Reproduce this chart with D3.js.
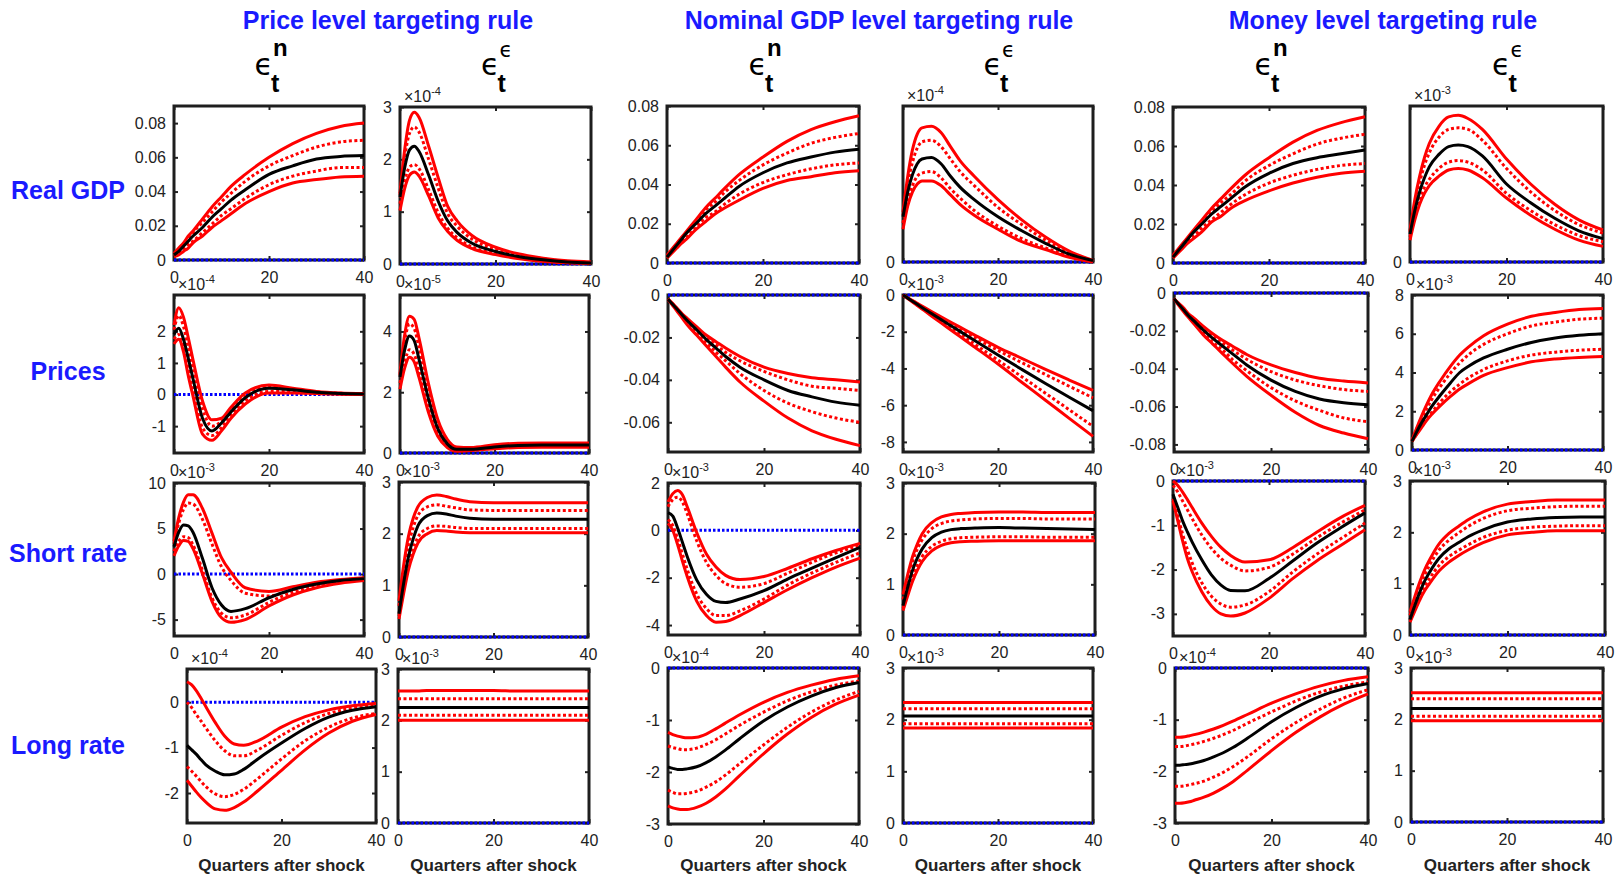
<!DOCTYPE html>
<html><head><meta charset="utf-8">
<script src="https://cdn.jsdelivr.net/npm/d3@7"></script>
<style>body{margin:0;background:#fff}</style>
</head><body>
<svg id="c" width="1617" height="877"></svg>
<script>
// ---------------- DATA ----------------
const quarters = [0,1,2,3,4,6,8,10,12,15,20,25,30,35,40];
const rules = ["Price level targeting rule", "Nominal GDP level targeting rule", "Money level targeting rule"];
const variables = ["Real GDP", "Prices", "Short rate", "Long rate"];
const shocks = ["n", "ϵ"];
const xTicks = [0, 20, 40];
const xLabel = "Quarters after shock";
// each panel: [outer upper, inner upper, median, inner lower, outer lower]
const pl_gdp_n = [
 [0.004,0.007,0.010,0.014,0.017,0.024,0.031,0.037,0.043,0.050,0.060,0.068,0.074,0.078,0.080],
 [0.0035,0.006,0.009,0.012,0.016,0.022,0.028,0.034,0.039,0.046,0.055,0.061,0.066,0.069,0.070],
 [0.003,0.005,0.008,0.011,0.014,0.019,0.025,0.030,0.035,0.041,0.050,0.055,0.059,0.0605,0.061],
 [0.0025,0.004,0.006,0.009,0.011,0.016,0.021,0.026,0.030,0.036,0.044,0.049,0.052,0.054,0.054],
 [0.002,0.003,0.005,0.007,0.010,0.014,0.019,0.023,0.027,0.033,0.040,0.045,0.047,0.0485,0.049]];
const pl_gdp_e = [
 [1.35,2.2,2.75,2.90,2.80,2.25,1.65,1.10,0.82,0.55,0.32,0.19,0.11,0.06,0.04],
 [1.32,2.05,2.5,2.62,2.52,2.0,1.45,0.96,0.72,0.48,0.28,0.17,0.10,0.05,0.03],
 [1.28,1.85,2.18,2.25,2.15,1.70,1.20,0.82,0.60,0.40,0.24,0.14,0.08,0.04,0.02],
 [1.15,1.6,1.85,1.9,1.82,1.42,0.98,0.68,0.50,0.33,0.20,0.12,0.06,0.03,0.015],
 [1.02,1.45,1.7,1.76,1.68,1.30,0.88,0.62,0.45,0.30,0.18,0.10,0.05,0.025,0.01]];
const ngdp_gdp_n = [
 [0.004,0.007,0.010,0.013,0.016,0.022,0.028,0.033,0.038,0.045,0.054,0.062,0.068,0.072,0.075],
 [0.0035,0.0065,0.0095,0.0125,0.0155,0.021,0.027,0.031,0.036,0.042,0.050,0.056,0.061,0.064,0.066],
 [0.003,0.006,0.009,0.012,0.015,0.020,0.025,0.029,0.033,0.039,0.046,0.051,0.054,0.0565,0.058],
 [0.003,0.0055,0.008,0.011,0.013,0.018,0.023,0.026,0.030,0.035,0.041,0.045,0.048,0.050,0.051],
 [0.0025,0.005,0.0075,0.010,0.012,0.017,0.021,0.025,0.028,0.032,0.038,0.042,0.044,0.046,0.047]];
const ngdp_gdp_e = [
 [0.32,0.55,0.72,0.82,0.86,0.87,0.83,0.74,0.65,0.55,0.40,0.27,0.16,0.07,0.01],
 [0.30,0.50,0.64,0.73,0.77,0.78,0.74,0.66,0.58,0.49,0.35,0.24,0.14,0.06,0.01],
 [0.29,0.45,0.56,0.63,0.66,0.67,0.63,0.55,0.48,0.40,0.29,0.20,0.12,0.05,0.01],
 [0.25,0.40,0.49,0.55,0.57,0.58,0.54,0.47,0.41,0.33,0.23,0.15,0.09,0.04,0.005],
 [0.21,0.36,0.45,0.50,0.52,0.52,0.49,0.43,0.37,0.30,0.21,0.13,0.08,0.03,0.0]];
const ml_gdp_n = [
 [0.004,0.007,0.010,0.013,0.016,0.022,0.028,0.033,0.038,0.045,0.054,0.062,0.068,0.072,0.075],
 [0.0035,0.0065,0.0095,0.0125,0.0155,0.021,0.026,0.031,0.035,0.042,0.050,0.056,0.061,0.064,0.066],
 [0.003,0.006,0.009,0.012,0.015,0.020,0.025,0.029,0.033,0.039,0.046,0.051,0.054,0.056,0.058],
 [0.003,0.0055,0.008,0.011,0.013,0.018,0.022,0.026,0.030,0.035,0.041,0.045,0.048,0.050,0.051],
 [0.0025,0.005,0.0075,0.010,0.012,0.016,0.021,0.024,0.028,0.032,0.037,0.041,0.044,0.046,0.047]];
const ml_gdp_e = [
 [0.20,0.40,0.55,0.67,0.76,0.87,0.93,0.94,0.92,0.85,0.66,0.50,0.37,0.27,0.205],
 [0.19,0.37,0.51,0.62,0.70,0.80,0.85,0.86,0.85,0.78,0.60,0.45,0.33,0.24,0.185],
 [0.18,0.33,0.45,0.54,0.61,0.69,0.74,0.75,0.74,0.68,0.50,0.38,0.28,0.20,0.15],
 [0.16,0.30,0.40,0.48,0.53,0.60,0.64,0.65,0.64,0.59,0.44,0.33,0.24,0.17,0.13],
 [0.14,0.27,0.37,0.44,0.49,0.55,0.59,0.60,0.59,0.54,0.41,0.30,0.21,0.14,0.10]];
const pl_p_n = [
 [2.2,2.75,2.45,1.8,1.1,-0.2,-0.8,-0.75,-0.4,0.05,0.3,0.2,0.1,0.05,0.03],
 [2.05,2.5,2.15,1.5,0.85,-0.45,-1.0,-0.85,-0.45,0.0,0.25,0.17,0.08,0.04,0.02],
 [1.9,2.1,1.75,1.15,0.5,-0.75,-1.15,-0.9,-0.55,-0.1,0.2,0.15,0.07,0.03,0.02],
 [1.75,1.9,1.5,0.8,0.15,-1.05,-1.3,-1.05,-0.65,-0.2,0.1,0.08,0.04,0.02,0.01],
 [1.6,1.75,1.35,0.6,-0.05,-1.25,-1.45,-1.15,-0.75,-0.3,0.05,0.05,0.03,0.01,0.0]];
const pl_p_e = [
 [2.6,3.9,4.5,4.4,3.8,2.3,1.1,0.45,0.2,0.18,0.27,0.32,0.33,0.33,0.33],
 [2.55,3.7,4.25,4.1,3.5,2.1,0.95,0.38,0.16,0.15,0.24,0.29,0.30,0.30,0.30],
 [2.5,3.4,3.85,3.7,3.1,1.8,0.8,0.3,0.12,0.12,0.2,0.25,0.26,0.26,0.26],
 [2.3,3.0,3.4,3.25,2.7,1.5,0.65,0.22,0.08,0.09,0.16,0.21,0.22,0.22,0.22],
 [2.1,2.8,3.15,3.0,2.5,1.35,0.55,0.18,0.06,0.08,0.14,0.18,0.19,0.19,0.19]];
const ngdp_p_n = [
 [-0.002,-0.004,-0.0065,-0.009,-0.011,-0.015,-0.019,-0.022,-0.025,-0.029,-0.034,-0.037,-0.039,-0.040,-0.041],
 [-0.002,-0.0043,-0.0068,-0.0092,-0.0115,-0.016,-0.020,-0.0235,-0.027,-0.031,-0.036,-0.040,-0.043,-0.044,-0.045],
 [-0.002,-0.0045,-0.007,-0.0095,-0.012,-0.0165,-0.021,-0.025,-0.029,-0.034,-0.040,-0.045,-0.048,-0.0505,-0.052],
 [-0.002,-0.0048,-0.0075,-0.010,-0.013,-0.018,-0.0225,-0.027,-0.031,-0.037,-0.045,-0.051,-0.055,-0.058,-0.060],
 [-0.002,-0.005,-0.008,-0.011,-0.014,-0.019,-0.024,-0.029,-0.034,-0.041,-0.050,-0.058,-0.064,-0.068,-0.071]];
const ngdp_p_e = [
 [0,-0.15,-0.30,-0.45,-0.60,-0.90,-1.19,-1.47,-1.75,-2.17,-2.85,-3.45,-4.05,-4.63,-5.2],
 [0,-0.16,-0.32,-0.48,-0.64,-0.96,-1.27,-1.57,-1.87,-2.30,-3.02,-3.68,-4.33,-4.97,-5.6],
 [0,-0.17,-0.34,-0.51,-0.68,-1.01,-1.34,-1.66,-1.98,-2.47,-3.27,-4.05,-4.82,-5.57,-6.3],
 [0,-0.18,-0.36,-0.54,-0.72,-1.08,-1.43,-1.78,-2.13,-2.66,-3.55,-4.45,-5.35,-6.25,-7.15],
 [0,-0.19,-0.38,-0.57,-0.76,-1.14,-1.52,-1.89,-2.26,-2.82,-3.76,-4.75,-5.73,-6.72,-7.7]];
const ml_p_n = [
 [-0.003,-0.0055,-0.008,-0.011,-0.013,-0.0175,-0.0215,-0.025,-0.028,-0.0325,-0.038,-0.042,-0.045,-0.0465,-0.0475],
 [-0.003,-0.0058,-0.0085,-0.0115,-0.014,-0.0185,-0.0228,-0.0265,-0.030,-0.035,-0.0415,-0.046,-0.049,-0.051,-0.052],
 [-0.003,-0.006,-0.009,-0.012,-0.0145,-0.0195,-0.024,-0.028,-0.032,-0.038,-0.046,-0.052,-0.056,-0.058,-0.059],
 [-0.003,-0.0063,-0.0095,-0.0125,-0.0155,-0.021,-0.026,-0.030,-0.035,-0.041,-0.050,-0.057,-0.062,-0.066,-0.068],
 [-0.003,-0.0066,-0.010,-0.013,-0.016,-0.022,-0.027,-0.032,-0.037,-0.044,-0.054,-0.063,-0.070,-0.074,-0.077]];
const ml_p_e = [
 [0.5,1.15,1.75,2.3,2.8,3.6,4.3,4.9,5.35,5.9,6.5,6.9,7.1,7.25,7.3],
 [0.5,1.1,1.6,2.1,2.55,3.3,3.95,4.5,4.95,5.45,6.0,6.4,6.6,6.75,6.8],
 [0.45,0.95,1.4,1.8,2.2,2.85,3.45,4.0,4.35,4.75,5.2,5.55,5.78,5.92,6.0],
 [0.45,0.85,1.25,1.6,1.9,2.5,3.0,3.4,3.75,4.15,4.6,4.9,5.05,5.15,5.2],
 [0.45,0.8,1.15,1.5,1.8,2.3,2.75,3.15,3.45,3.85,4.25,4.55,4.7,4.78,4.82]];
const pl_s_n = [
 [3.6,6.2,7.9,8.7,8.7,7.2,4.5,1.8,0.2,-1.5,-1.9,-1.4,-0.9,-0.6,-0.4],
 [3.3,5.6,7.1,7.8,7.7,6.0,3.3,0.8,-0.7,-2.1,-2.4,-1.7,-1.1,-0.7,-0.45],
 [3.0,4.6,5.4,5.3,4.6,1.7,-1.5,-3.4,-4.1,-3.8,-2.6,-1.7,-1.1,-0.7,-0.5],
 [2.5,3.6,4.1,4.0,3.2,0.4,-2.6,-4.3,-4.8,-4.5,-3.1,-2.0,-1.3,-0.85,-0.6],
 [2.0,3.1,3.7,3.6,2.8,0.0,-3.0,-4.8,-5.3,-5.0,-3.5,-2.3,-1.5,-1.0,-0.7]];
const pl_s_e = [
 [0.7,1.4,1.95,2.3,2.52,2.7,2.75,2.72,2.67,2.62,2.6,2.6,2.6,2.6,2.6],
 [0.6,1.25,1.78,2.12,2.35,2.52,2.56,2.53,2.5,2.46,2.45,2.45,2.45,2.45,2.45],
 [0.45,1.05,1.55,1.9,2.15,2.35,2.4,2.38,2.34,2.3,2.28,2.28,2.28,2.28,2.28],
 [0.4,0.95,1.4,1.72,1.93,2.1,2.15,2.14,2.12,2.1,2.1,2.1,2.1,2.1,2.1],
 [0.35,0.85,1.3,1.6,1.82,2.0,2.06,2.05,2.03,2.02,2.02,2.02,2.02,2.02,2.02]];
const ngdp_s_n = [
 [1.2,1.55,1.68,1.5,1.0,-0.1,-1.0,-1.55,-1.9,-2.08,-1.95,-1.6,-1.2,-0.85,-0.55],
 [1.0,1.3,1.4,1.2,0.7,-0.45,-1.35,-1.9,-2.25,-2.4,-2.25,-1.8,-1.35,-0.95,-0.65],
 [0.75,0.6,0.1,-0.5,-1.1,-2.1,-2.7,-3.0,-3.05,-2.9,-2.55,-2.05,-1.6,-1.15,-0.72],
 [0.45,0.2,-0.35,-1.0,-1.65,-2.7,-3.3,-3.6,-3.6,-3.4,-2.9,-2.3,-1.8,-1.35,-0.95],
 [0.3,0.0,-0.6,-1.3,-1.95,-3.0,-3.6,-3.88,-3.85,-3.6,-3.05,-2.5,-2.0,-1.55,-1.17]];
const ngdp_s_e = [
 [0.8,1.2,1.55,1.8,2.0,2.22,2.33,2.38,2.4,2.42,2.43,2.43,2.42,2.42,2.42],
 [0.7,1.1,1.45,1.7,1.88,2.1,2.2,2.25,2.27,2.29,2.3,2.3,2.29,2.29,2.29],
 [0.58,0.95,1.28,1.52,1.7,1.92,2.03,2.08,2.1,2.11,2.12,2.11,2.1,2.09,2.08],
 [0.52,0.85,1.15,1.38,1.55,1.75,1.85,1.9,1.92,1.93,1.94,1.94,1.93,1.93,1.93],
 [0.48,0.78,1.06,1.28,1.45,1.66,1.77,1.82,1.84,1.85,1.86,1.86,1.86,1.86,1.86]];
const ml_s_n = [
 [0.0,-0.1,-0.25,-0.42,-0.6,-0.95,-1.25,-1.5,-1.68,-1.83,-1.78,-1.5,-1.15,-0.82,-0.55],
 [-0.1,-0.25,-0.45,-0.65,-0.85,-1.22,-1.52,-1.75,-1.9,-2.03,-1.95,-1.65,-1.28,-0.95,-0.65],
 [-0.3,-0.6,-0.9,-1.15,-1.38,-1.78,-2.12,-2.35,-2.47,-2.48,-2.2,-1.8,-1.4,-1.05,-0.72],
 [-0.4,-0.8,-1.2,-1.55,-1.85,-2.3,-2.6,-2.78,-2.85,-2.8,-2.5,-2.05,-1.65,-1.3,-0.95],
 [-0.45,-0.9,-1.35,-1.75,-2.05,-2.5,-2.82,-3.0,-3.05,-2.98,-2.65,-2.2,-1.8,-1.45,-1.1]];
const ml_s_e = [
 [0.45,0.75,1.03,1.27,1.46,1.78,1.98,2.12,2.25,2.4,2.55,2.6,2.63,2.63,2.63],
 [0.38,0.68,0.95,1.17,1.36,1.66,1.85,1.99,2.12,2.27,2.42,2.47,2.5,2.51,2.51],
 [0.3,0.58,0.83,1.05,1.22,1.5,1.68,1.8,1.92,2.05,2.2,2.26,2.29,2.3,2.3],
 [0.28,0.52,0.75,0.95,1.1,1.36,1.53,1.65,1.76,1.9,2.04,2.1,2.12,2.13,2.13],
 [0.25,0.47,0.68,0.86,1.0,1.25,1.42,1.55,1.66,1.8,1.95,2.0,2.03,2.03,2.03]];
const pl_l_n = [
 [0.45,0.38,0.25,0.08,-0.1,-0.45,-0.75,-0.92,-0.95,-0.85,-0.55,-0.32,-0.17,-0.08,-0.03],
 [0.0,-0.12,-0.28,-0.42,-0.57,-0.85,-1.07,-1.18,-1.18,-1.05,-0.73,-0.45,-0.25,-0.13,-0.07],
 [-0.95,-1.05,-1.15,-1.27,-1.38,-1.52,-1.6,-1.58,-1.48,-1.25,-0.9,-0.58,-0.33,-0.18,-0.1],
 [-1.42,-1.52,-1.63,-1.75,-1.86,-2.02,-2.08,-2.03,-1.92,-1.68,-1.25,-0.85,-0.55,-0.35,-0.25],
 [-1.72,-1.85,-1.98,-2.1,-2.2,-2.35,-2.38,-2.32,-2.2,-1.95,-1.5,-1.05,-0.68,-0.42,-0.27]];
const pl_l_e = [
 [2.57,2.57,2.57,2.57,2.57,2.58,2.58,2.58,2.58,2.58,2.58,2.57,2.57,2.57,2.57],
 [2.42,2.42,2.42,2.42,2.42,2.42,2.42,2.42,2.42,2.42,2.42,2.42,2.42,2.42,2.42],
 [2.25,2.25,2.25,2.25,2.25,2.25,2.25,2.25,2.25,2.25,2.25,2.25,2.25,2.25,2.25],
 [2.1,2.1,2.1,2.1,2.1,2.1,2.1,2.1,2.1,2.1,2.1,2.1,2.1,2.1,2.1],
 [2.0,2.0,2.0,2.0,2.0,2.0,2.0,2.0,2.0,2.0,2.0,2.0,2.0,2.0,2.0]];
const ngdp_l_n = [
 [-1.24,-1.28,-1.31,-1.33,-1.34,-1.33,-1.27,-1.17,-1.06,-0.9,-0.66,-0.47,-0.33,-0.22,-0.15],
 [-1.5,-1.53,-1.55,-1.57,-1.57,-1.54,-1.47,-1.38,-1.27,-1.1,-0.85,-0.63,-0.46,-0.33,-0.25],
 [-1.9,-1.93,-1.95,-1.95,-1.94,-1.9,-1.82,-1.71,-1.58,-1.36,-1.02,-0.75,-0.54,-0.38,-0.28],
 [-2.35,-2.39,-2.42,-2.42,-2.41,-2.37,-2.29,-2.19,-2.06,-1.84,-1.48,-1.14,-0.85,-0.62,-0.45],
 [-2.65,-2.69,-2.71,-2.72,-2.72,-2.68,-2.6,-2.48,-2.33,-2.07,-1.65,-1.27,-0.95,-0.7,-0.52]];
const ngdp_l_e = [
 [2.33,2.33,2.33,2.33,2.33,2.33,2.33,2.33,2.33,2.33,2.33,2.33,2.33,2.33,2.33],
 [2.21,2.21,2.21,2.21,2.21,2.21,2.21,2.21,2.21,2.21,2.21,2.21,2.21,2.21,2.21],
 [2.07,2.07,2.07,2.07,2.07,2.07,2.07,2.07,2.07,2.07,2.07,2.07,2.07,2.07,2.07],
 [1.92,1.92,1.92,1.92,1.92,1.92,1.92,1.92,1.92,1.92,1.92,1.92,1.92,1.92,1.92],
 [1.84,1.84,1.84,1.84,1.84,1.84,1.84,1.84,1.84,1.84,1.84,1.84,1.84,1.84,1.84]];
const ml_l_n = [
 [-1.34,-1.34,-1.33,-1.31,-1.29,-1.24,-1.18,-1.11,-1.03,-0.9,-0.68,-0.5,-0.35,-0.24,-0.17],
 [-1.52,-1.52,-1.51,-1.49,-1.47,-1.42,-1.36,-1.29,-1.21,-1.07,-0.85,-0.64,-0.47,-0.35,-0.27],
 [-1.88,-1.88,-1.87,-1.86,-1.84,-1.79,-1.72,-1.64,-1.54,-1.36,-1.04,-0.77,-0.55,-0.4,-0.3],
 [-2.29,-2.29,-2.28,-2.26,-2.24,-2.19,-2.11,-2.02,-1.91,-1.72,-1.37,-1.06,-0.8,-0.58,-0.42],
 [-2.62,-2.62,-2.61,-2.59,-2.56,-2.5,-2.42,-2.32,-2.2,-1.98,-1.6,-1.25,-0.95,-0.7,-0.5]];
const ml_l_e = [
 [2.52,2.52,2.52,2.52,2.52,2.52,2.52,2.52,2.52,2.52,2.52,2.52,2.52,2.52,2.52],
 [2.4,2.4,2.4,2.4,2.4,2.4,2.4,2.4,2.4,2.4,2.4,2.4,2.4,2.4,2.4],
 [2.21,2.21,2.21,2.21,2.21,2.21,2.21,2.21,2.21,2.21,2.21,2.21,2.21,2.21,2.21],
 [2.06,2.06,2.06,2.06,2.06,2.06,2.06,2.06,2.06,2.06,2.06,2.06,2.06,2.06,2.06],
 [1.97,1.97,1.97,1.97,1.97,1.97,1.97,1.97,1.97,1.97,1.97,1.97,1.97,1.97,1.97]];

// y tick values (shown as labels) and axis ranges
const ticksGdp = [0, 0.02, 0.04, 0.06, 0.08];
const ticksZero = [0];
const panels = [
 {d: pl_gdp_n,  dom: [0, 0.09],      t: ticksGdp,               e: null},
 {d: pl_gdp_e,  dom: [0, 3],         t: [0,1,2,3],              e: "-4"},
 {d: ngdp_gdp_n,dom: [0, 0.08],      t: ticksGdp,               e: null},
 {d: ngdp_gdp_e,dom: [0, 1],         t: ticksZero,              e: "-4"},
 {d: ml_gdp_n,  dom: [0, 0.08],      t: ticksGdp,               e: null},
 {d: ml_gdp_e,  dom: [0, 1],         t: ticksZero,              e: "-3"},
 {d: pl_p_n,    dom: [-1.85, 3.15],  t: [-1,0,1,2],             e: "-4"},
 {d: pl_p_e,    dom: [0, 5.2],       t: [0,2,4],                e: "-5"},
 {d: ngdp_p_n,  dom: [-0.074, 0],    t: [-0.06,-0.04,-0.02,0],  e: null},
 {d: ngdp_p_e,  dom: [-8.55, 0],     t: [-8,-6,-4,-2,0],        e: "-3"},
 {d: ml_p_n,    dom: [-0.084, 0],    t: [-0.08,-0.06,-0.04,-0.02,0], e: null},
 {d: ml_p_e,    dom: [0, 8],         t: [0,2,4,6,8],            e: "-3"},
 {d: pl_s_n,    dom: [-6.8, 10],     t: [-5,0,5,10],            e: "-3"},
 {d: pl_s_e,    dom: [0, 3],         t: [0,1,2,3],              e: "-3"},
 {d: ngdp_s_n,  dom: [-4.42, 2],     t: [-4,-2,0,2],            e: "-3"},
 {d: ngdp_s_e,  dom: [0, 3],         t: [0,1,2,3],              e: "-3"},
 {d: ml_s_n,    dom: [-3.5, 0],      t: [-3,-2,-1,0],           e: "-3"},
 {d: ml_s_e,    dom: [0, 3],         t: [0,1,2,3],              e: "-3"},
 {d: pl_l_n,    dom: [-2.66, 0.73],  t: [-2,-1,0],              e: "-4"},
 {d: pl_l_e,    dom: [0, 3],         t: [0,1,2,3],              e: "-3"},
 {d: ngdp_l_n,  dom: [-3, 0],        t: [-3,-2,-1,0],           e: "-4"},
 {d: ngdp_l_e,  dom: [0, 3],         t: [0,1,2,3],              e: "-3"},
 {d: ml_l_n,    dom: [-3, 0],        t: [-3,-2,-1,0],           e: "-4"},
 {d: ml_l_e,    dom: [0, 3],         t: [0,1,2,3],              e: "-3"}
];

// ---------------- LAYOUT ----------------
const boxes = [
 [174,106,364,260],[400,107,591,264],[667,106,859,263],[903,106,1093,262],[1173,107,1365,263],[1410,106,1603,262],
 [174,295,364,453],[400,295,589,453],[668,295,860,452],[903,295,1093,452],[1174,293,1368,452],[1412,295,1603,450],
 [174,483,364,636],[399,482,588,637],[668,483,860,635],[903,483,1095,635],[1173,481,1365,636],[1410,481,1605,635],
 [187,669,376,823],[398,669,589,823],[668,668,859,824],[903,668,1093,823],[1175,668,1368,823],[1411,668,1603,822]
];
const titleX = [388, 879, 1383];
const rowLabelY = [190, 371, 553, 745];
const FONT = "'Liberation Sans', Arial, Helvetica, sans-serif";
const BLUE = "#1a1aff";

const svg = d3.select("#c");
svg.append("rect").attr("width",1617).attr("height",877).attr("fill","#fff");

// titles
rules.forEach((t,i)=>{
  svg.append("text").attr("x",titleX[i]).attr("y",29).attr("text-anchor","middle")
    .attr("font-family",FONT).attr("font-weight","bold").attr("font-size",25)
    .attr("fill",BLUE).text(t);
});
// row labels
variables.forEach((t,i)=>{
  svg.append("text").attr("x",68).attr("y",rowLabelY[i]+9).attr("text-anchor","middle")
    .attr("font-family",FONT).attr("font-weight","bold").attr("font-size",25)
    .attr("fill",BLUE).text(t);
});
// column headers  ϵ_t^n / ϵ_t^ϵ
for (let c=0;c<6;c++){
  const b = boxes[c];
  const cx = (b[0]+b[2])/2;
  const g = svg.append("g").attr("fill","#000");
  g.append("text").attr("x",cx+4).attr("y",75).attr("text-anchor","end")
    .attr("font-family","'DejaVu Sans', sans-serif").attr("font-size",30).text("ϵ");
  g.append("text").attr("x",cx+2).attr("y",92)
    .attr("font-family",FONT).attr("font-weight","bold").attr("font-size",25).text("t");
  const s = shocks[c%2];
  if (s === "n") {
    g.append("text").attr("x",cx+4).attr("y",56)
      .attr("font-family",FONT).attr("font-weight","bold").attr("font-size",24).text(s);
  } else {
    g.append("text").attr("x",cx+4).attr("y",57)
      .attr("font-family","'DejaVu Sans', sans-serif").attr("font-size",21).text(s);
  }
}

const fmt = v => String(v);

panels.forEach((p,i)=>{
  const [L,T,R,B] = boxes[i];
  const row = Math.floor(i/6);
  const x = d3.scaleLinear().domain([0,40]).range([L,R]);
  const y = d3.scaleLinear().domain(p.dom).range([B,T]);
  const g = svg.append("g");

  // axes (inward ticks)
  const ab = g.append("g").attr("transform",`translate(0,${B})`)
    .call(d3.axisBottom(x).tickValues(xTicks).tickSize(-4).tickPadding(12).tickFormat(fmt));
  const al = g.append("g").attr("transform",`translate(${L},0)`)
    .call(d3.axisLeft(y).tickValues(p.t).tickSize(-4).tickPadding(8).tickFormat(fmt));
  const at = g.append("g").attr("transform",`translate(0,${T})`)
    .call(d3.axisTop(x).tickValues(xTicks).tickSize(-4).tickFormat(""));
  const ar = g.append("g").attr("transform",`translate(${R},0)`)
    .call(d3.axisRight(y).tickValues(p.t).tickSize(-4).tickFormat(""));
  [ab,al,at,ar].forEach(a=>{
    a.select(".domain").remove();
    a.selectAll("line").attr("stroke","#222").attr("stroke-width",2);
    a.selectAll("text").attr("font-family",FONT).attr("font-size",16).attr("fill","#222");
  });

  // box
  g.append("rect").attr("x",L).attr("y",T).attr("width",R-L).attr("height",B-T)
    .attr("fill","none").attr("stroke","#1e1e1e").attr("stroke-width",3);

  // exponent
  if (p.e) {
    const t = g.append("text").attr("x",L+4).attr("y",T-5)
      .attr("font-family",FONT).attr("font-size",16).attr("fill","#222").text("×10");
    t.append("tspan").attr("dy",-7).attr("font-size",11).text(p.e);
  }

  // zero line
  g.append("path").datum([0,40])
    .attr("d", d3.line().x(d=>x(d)).y(()=>y(0)))
    .attr("fill","none").attr("stroke","#0000ff").attr("stroke-width",3)
    .attr("stroke-dasharray","2.5,2");

  const line = d3.line().x((d,j)=>x(quarters[j])).y(d=>y(d)).curve(d3.curveMonotoneX);
  const styles = [
    {c:"#ff0000", dash:null},
    {c:"#ff0000", dash:"3,2.5"},
    {c:"#000000", dash:null},
    {c:"#ff0000", dash:"3,2.5"},
    {c:"#ff0000", dash:null}
  ];
  [0,4,1,3,2].forEach(k=>{
    const path = g.append("path").datum(p.d[k]).attr("d",line)
      .attr("fill","none").attr("stroke",styles[k].c).attr("stroke-width",3)
      .attr("stroke-linejoin","round");
    if (styles[k].dash) path.attr("stroke-dasharray",styles[k].dash);
  });

  if (row === 3) {
    g.append("text").attr("x",(L+R)/2).attr("y",871).attr("text-anchor","middle")
      .attr("font-family",FONT).attr("font-weight","bold").attr("font-size",17)
      .attr("fill","#222").text(xLabel);
  }
});
</script></body></html>
